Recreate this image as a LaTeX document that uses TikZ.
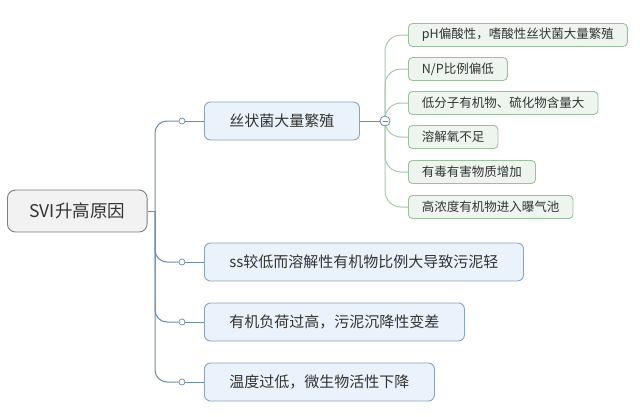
\documentclass[tikz,border=0pt]{standalone}
\usepackage{fontspec}
\setmainfont{Noto Sans CJK SC}
\usetikzlibrary{positioning}
\definecolor{rootfill}{HTML}{F2F2F2}
\definecolor{rootline}{HTML}{7D7D7D}
\definecolor{mainfill}{HTML}{EAF2FB}
\definecolor{mainline}{HTML}{8AA3BC}
\definecolor{trunkcol}{HTML}{6C8CAA}
\definecolor{subfill}{HTML}{EEF5EF}
\definecolor{subline}{HTML}{9DBF9F}
\definecolor{leafcol}{HTML}{A9C8AA}
\definecolor{txt}{HTML}{333333}
\tikzset{
  rootbox/.style={draw=rootline, fill=rootfill, rounded corners=8pt, line width=0.9pt, minimum height=42pt, inner xsep=22pt, anchor=west, text=txt, font=\fontsize{17.5}{21}\selectfont},
  mainbox/.style={draw=mainline, fill=mainfill, rounded corners=6pt, line width=0.9pt, minimum height=38pt, inner xsep=25pt, anchor=west, text=txt, font=\fontsize{15}{18}\selectfont},
  subbox/.style={draw=subline, fill=subfill, rounded corners=4pt, line width=0.9pt, minimum height=23pt, inner xsep=13.5pt, anchor=west, text=txt, font=\fontsize{12.5}{15}\selectfont},
  knob/.style={circle, draw=trunkcol, fill=white, line width=0.7pt, inner sep=0pt, minimum size=6pt},
  trunk/.style={draw=trunkcol, line width=1pt, rounded corners=12pt},
  leaf/.style={draw=leafcol, line width=1pt, rounded corners=16pt}
}
\begin{document}
\begin{tikzpicture}[x=1pt, y=-1pt]
\useasboundingbox (0,0) rectangle (640,416);
% root and main branches
\node[rootbox] (root) at (7,211) {SVI升高原因};
\node[mainbox] (b1) at (204,121) {丝状菌大量繁殖};
\node[mainbox] (b2) at (204,262) {ss较低而溶解性有机物比例大导致污泥轻};
\node[mainbox] (b3) at (204,322) {有机负荷过高，污泥沉降性变差};
\node[mainbox] (b4) at (204,382) {温度过低，微生物活性下降};
\coordinate (t) at (155,211);
\foreach \i/\y in {1/121, 2/262, 3/322, 4/382} {
  \node[knob] (k\i) at (182,\y) {};
  \draw[trunk] (t) |- (k\i.west);
  \draw[trunk] (k\i.east) -- (b\i.west);
}
\draw[trunk] (root.east) -- (t);
% sub causes of b1
\node[subbox] (s1) at (408,35) {pH偏酸性，嗜酸性丝状菌大量繁殖};
\node[subbox] (s2) at (408,69) {N/P比例偏低};
\node[subbox] (s3) at (408,103) {低分子有机物、硫化物含量大};
\node[subbox] (s4) at (408,137) {溶解氧不足};
\node[subbox] (s5) at (408,172) {有毒有害物质增加};
\node[subbox] (s6) at (408,207) {高浓度有机物进入曝气池};
\coordinate (mc) at (385,121);
\foreach \i in {1,...,6}
  \draw[leaf] (mc) |- (s\i.west);
\node[circle, draw=trunkcol, fill=white, line width=0.8pt, inner sep=0pt, minimum size=10pt] (m) at (mc) {};
\draw[trunkcol, line width=1pt] ([xshift=-2.5pt]m.center) -- ([xshift=2.5pt]m.center);
\draw[trunk] (b1.east) -- (m.west);
\end{tikzpicture}
\end{document}
